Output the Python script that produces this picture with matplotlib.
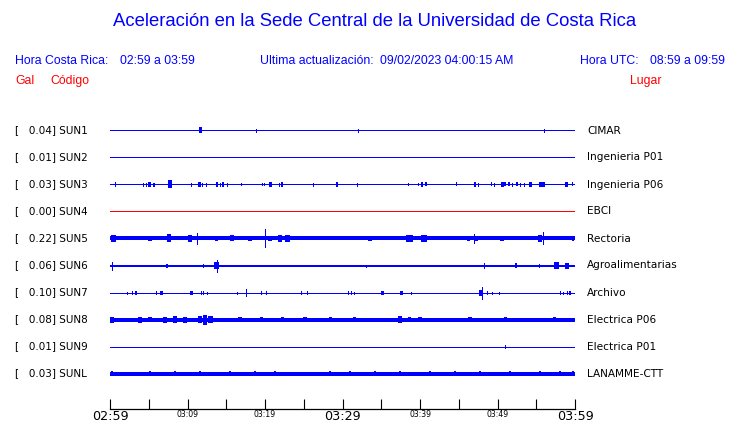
import matplotlib
matplotlib.use("Agg")
import matplotlib.pyplot as plt
from matplotlib import transforms
from matplotlib.ticker import FixedLocator, FixedFormatter

# ---------------- data ----------------
title = "Aceleración en la Sede Central de la Universidad de Costa Rica"
hora_cr = "02:59 a 03:59"
ultima = "09/02/2023 04:00:15 AM"
hora_utc = "08:59 a 09:59"

codes = ["SUN1", "SUN2", "SUN3", "SUN4", "SUN5", "SUN6", "SUN7", "SUN8", "SUN9", "SUNL"]
pga = [0.04, 0.01, 0.03, 0.00, 0.22, 0.06, 0.10, 0.08, 0.01, 0.03]
places = ["CIMAR", "Ingenieria P01", "Ingenieria P06", "EBCI", "Rectoria",
          "Agroalimentarias", "Archivo", "Electrica P06", "Electrica P01", "LANAMME-CTT"]

# background noise half-amplitude of each trace (pixels on the record)
noise = [0.5, 0.5, 0.5, 0.5, 2.0, 0.75, 0.5, 2.0, 0.5, 1.8]

# bursts: (minutes after 02:59, half-amplitude, duration in minutes)
events_sun1 = [(11.65, 3.0, 0.35), (18.8, 1.5, 0.1), (31.96, 1.3, 0.1), (56.04, 1.5, 0.1)]
events_sun2 = []
events_sun3 = [(0.68, 2, 0.1), (4.3, 1.5, 0.1), (4.7, 1.5, 0.1), (5.1, 2.5, 0.3), (5.5, 1.5, 0.1),
               (5.7, 1.5, 0.1), (7.74, 4, 0.5), (10.4, 1.5, 0.1), (11.5, 2.5, 0.4), (11.9, 1.5, 0.1),
               (12.4, 1.5, 0.1), (13.8, 2.5, 0.35), (14.2, 1.5, 0.1), (14.6, 2.5, 0.3), (15.1, 1.5, 0.1),
               (16.9, 1, 0.1), (19.6, 1, 0.1), (19.9, 1, 0.1), (20.7, 2.5, 0.3), (21.8, 1.5, 0.1),
               (22.2, 2.5, 0.3), (26.2, 1.5, 0.1), (29.3, 2.5, 0.3), (31.9, 1.5, 0.1), (38.5, 1, 0.1),
               (39.8, 1, 0.1), (40.3, 2.5, 0.3), (40.8, 2, 0.2), (44.7, 2, 0.2), (47.1, 2.5, 0.35),
               (47.5, 1.5, 0.1), (49.2, 2, 0.2), (49.5, 1.5, 0.1), (50.6, 2.5, 0.4), (51.0, 2, 0.2),
               (51.5, 2, 0.2), (51.9, 1.5, 0.1), (52.5, 2, 0.2), (52.9, 1.5, 0.1), (53.4, 1.5, 0.1),
               (54.2, 2.5, 0.4), (55.7, 2.5, 0.75), (58.9, 2.5, 0.4), (59.7, 2, 0.2)]
events_sun4 = []
events_sun5 = [(0.43, 3.5, 0.6), (2.67, 1.5, 0.3), (5.16, 2.5, 0.5), (6.45, 2, 0.3), (7.65, 4, 0.5),
               (9.72, 1.5, 0.3), (10.32, 3.5, 0.5), (11.19, 5.7, 0.1), (13.77, 2.7, 0.4),
               (15.7, 3, 0.5), (18.06, 2.7, 0.4), (19.14, 2, 0.3), (20.0, 9, 0.1), (20.65, 2.7, 0.5),
               (21.94, 3.2, 0.6), (22.88, 3.3, 0.6), (24.3, 2, 0.3), (26.23, 2, 0.3), (27.45, 1.5, 0.3),
               (29.33, 1.7, 0.3), (30.75, 1.5, 0.3), (31.83, 1.5, 0.3), (33.55, 2.5, 0.4),
               (35.26, 1.5, 0.3), (38.62, 3.8, 0.9), (40.52, 3.8, 0.7), (44.74, 2, 0.3),
               (45.16, 2, 0.3), (46.23, 2.7, 0.4), (46.97, 4.5, 0.1), (47.32, 2.7, 0.4),
               (49.03, 1.5, 0.3), (49.55, 1.5, 0.3), (50.58, 2.3, 0.5), (51.61, 1.5, 0.3),
               (52.39, 1.5, 0.3), (53.77, 1.5, 0.3), (55.48, 3.3, 0.5), (55.83, 6, 0.1),
               (58.71, 2, 0.4), (59.78, 2.3, 0.3)]
events_sun6 = [(0.3, 4, 0.1), (7.32, 2, 0.3), (11.96, 1.5, 0.1), (13.77, 6, 0.1), (13.7, 3.5, 0.6),
               (33.03, 1, 0.1), (48.26, 2.5, 0.1), (52.35, 2.5, 0.3), (55.39, 1.5, 0.1),
               (57.64, 3.5, 0.7), (58.93, 3, 0.5)]
events_sun7 = [(2.23, 1, 0.1), (2.8, 1.5, 0.1), (3.32, 2, 0.3), (5.9, 1.5, 0.1), (6.62, 2, 0.35),
               (10.54, 2, 0.35), (11.7, 1.5, 0.1), (12.0, 1.5, 0.1), (12.55, 1, 0.1), (16.35, 1, 0.1),
               (17.55, 3.5, 0.1), (19.48, 1.5, 0.1), (20.13, 1.5, 0.1), (24.6, 1.5, 0.1),
               (25.46, 1.5, 0.1), (30.75, 1.5, 0.1), (31.06, 1.5, 0.1), (31.52, 1, 0.1),
               (35.19, 2, 0.35), (37.59, 2, 0.35), (38.8, 1, 0.1), (47.96, 6, 0.1), (47.9, 3, 0.5),
               (48.6, 1.5, 0.1), (49.25, 1, 0.1), (50.23, 1, 0.1), (58.06, 1.5, 0.1),
               (58.49, 1, 0.1), (58.93, 1.5, 0.1), (59.35, 2, 0.3)]
events_sun8 = [(0.26, 3, 0.4), (3.87, 3, 0.4), (5.16, 2.8, 0.5), (7.1, 3, 0.5), (8.39, 3.2, 0.6),
               (9.68, 3, 0.5), (11.6, 3.5, 0.6), (12.3, 5, 0.5), (13.0, 3.5, 0.6), (16.77, 2.8, 0.4),
               (19.6, 2.8, 0.4), (22.3, 2.8, 0.4), (25.16, 2.6, 0.4), (28.4, 2.6, 0.4),
               (31.6, 2.6, 0.4), (37.4, 3.2, 0.6), (38.7, 2.8, 0.4), (40.0, 2.8, 0.4),
               (46.45, 2.8, 0.4), (51.0, 2.6, 0.4), (57.4, 2.6, 0.4)]
events_sun9 = [(50.97, 1.5, 0.1)]
events_sunl = [(0.26, 2.4, 0.3), (5.16, 2.4, 0.3), (8.39, 2.4, 0.3), (11.6, 2.4, 0.3),
               (15.5, 2.4, 0.3), (18.7, 2.4, 0.3), (21.3, 2.4, 0.3), (28.4, 2.4, 0.3),
               (31.0, 2.4, 0.3), (34.2, 2.4, 0.3), (37.4, 2.4, 0.3), (41.3, 2.4, 0.3),
               (44.5, 2.4, 0.3), (47.7, 2.4, 0.3), (51.6, 2.4, 0.3), (55.5, 2.4, 0.3),
               (58.1, 2.4, 0.3), (59.7, 2.4, 0.3)]
events = [events_sun1, events_sun2, events_sun3, events_sun4, events_sun5,
          events_sun6, events_sun7, events_sun8, events_sun9, events_sunl]

tick_minutes = list(range(0, 61, 5))
big_labels = {0: "02:59", 30: "03:29", 60: "03:59"}
small_labels = {10: "03:09", 20: "03:19", 40: "03:39", 50: "03:49"}

# ---------------- drawing ----------------
W, H = 740, 423
fig = plt.figure(figsize=(W / 100, H / 100), dpi=100)
fig.patch.set_facecolor("white")

BLUE = "#0000ff"
RED = "#ff0000"
SANS = ["Liberation Sans", "DejaVu Sans"]
PX = 0.72  # points per pixel

ax_top_px, ax_bot_px = 115, 409
ax_left_px, ax_right_px = 110, 575
ax = fig.add_axes([ax_left_px / W, (H - ax_bot_px) / H,
                   (ax_right_px - ax_left_px) / W, (ax_bot_px - ax_top_px) / H])
ax.set_xlim(0, 60)
ax.set_ylim(0, ax_bot_px - ax_top_px)

row0 = ax_bot_px - 130 - 0.5
spacing = 27
trans_lbl = transforms.blended_transform_factory(fig.transFigure, ax.transData)

for i, code in enumerate(codes):
    y = row0 - i * spacing
    col = RED if i == 3 else BLUE
    ax.hlines(y, 0, 60, color=col, linewidth=2 * noise[i] * PX, capstyle="butt",
              antialiased=False)
    for (t, a, d) in events[i]:
        if d <= 0.1:
            ax.vlines(t, y - a, y + a, color=col, linewidth=1.0 * PX, capstyle="butt",
                      antialiased=False)
        else:
            ax.bar(t, 2 * a, bottom=y - a, width=d, color=col, linewidth=0,
                   antialiased=False)
    ax.text(15 / W, y, "[   %.2f] %s" % (pga[i], code), transform=trans_lbl,
            ha="left", va="center", fontsize=7.5, color="black", family="DejaVu Sans")
    ax.text(587 / W, y, places[i], transform=trans_lbl,
            ha="left", va="center", fontsize=7.6, color="black", family="DejaVu Sans")

for s in ["left", "right", "top"]:
    ax.spines[s].set_visible(False)
ax.spines["bottom"].set_linewidth(0.9)
ax.set_yticks([])

major = sorted(big_labels)
minor = [m for m in tick_minutes if m not in big_labels]
ax.xaxis.set_major_locator(FixedLocator(major))
ax.xaxis.set_major_formatter(FixedFormatter([big_labels[m] for m in major]))
ax.xaxis.set_minor_locator(FixedLocator(minor))
ax.xaxis.set_minor_formatter(FixedFormatter([small_labels.get(m, "") for m in minor]))
ax.tick_params(axis="x", which="both", direction="in", length=7.5, width=0.8, color="black")
ax.tick_params(axis="x", which="major", labelsize=9.2, pad=0.5)
ax.tick_params(axis="x", which="minor", labelsize=5.6, pad=1.0)
for lab in ax.get_xticklabels(which="both"):
    lab.set_family("DejaVu Sans")

# header
fig.text(375 / W, 1 - 22 / H, title, ha="center", va="center", fontsize=13.3,
         color=BLUE, family=SANS)
yh = 1 - 61 / H
fig.text(15 / W, yh, "Hora Costa Rica:", ha="left", va="center", fontsize=8.8, color=BLUE, family=SANS)
fig.text(120 / W, yh, hora_cr, ha="left", va="center", fontsize=8.8, color=BLUE, family=SANS)
fig.text(260 / W, yh, "Ultima actualización:", ha="left", va="center", fontsize=8.8, color=BLUE, family=SANS)
fig.text(380 / W, yh, ultima, ha="left", va="center", fontsize=8.8, color=BLUE, family=SANS)
fig.text(580 / W, yh, "Hora UTC:", ha="left", va="center", fontsize=8.8, color=BLUE, family=SANS)
fig.text(650 / W, yh, hora_utc, ha="left", va="center", fontsize=8.8, color=BLUE, family=SANS)
yr = 1 - 81 / H
fig.text(15 / W, yr, "Gal", ha="left", va="center", fontsize=8.8, color=RED, family=SANS)
fig.text(50 / W, yr, "Código", ha="left", va="center", fontsize=8.8, color=RED, family=SANS)
fig.text(630 / W, yr, "Lugar", ha="left", va="center", fontsize=8.8, color=RED, family=SANS)

fig.savefig("out.png", dpi=100, facecolor="white")
